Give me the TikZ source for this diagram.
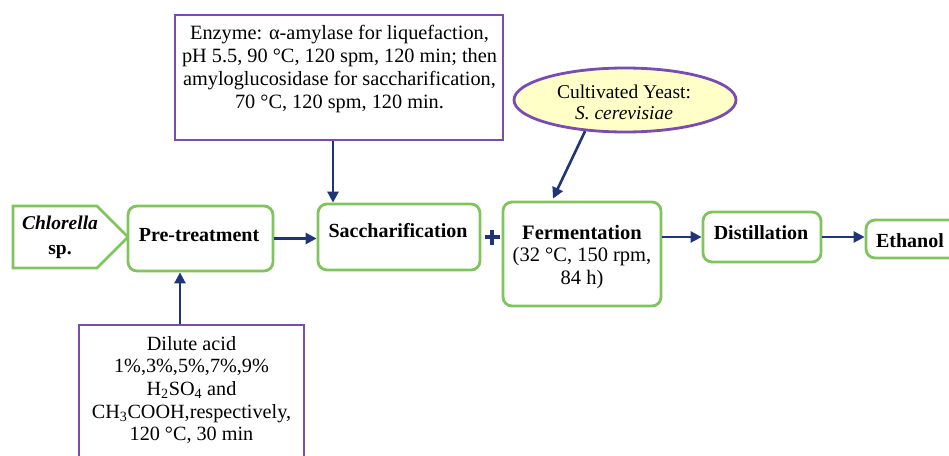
\documentclass[tikz,border=0pt]{standalone}
\usepackage{fontspec}
\setmainfont{Liberation Serif}
\usetikzlibrary{shapes.geometric,arrows.meta}
\definecolor{grn}{HTML}{80C45E}
\definecolor{pur}{HTML}{7A4BB0}
\definecolor{nav}{HTML}{1F3577}
\definecolor{yel}{HTML}{FFFFC8}
\begin{document}
\begin{tikzpicture}[x=1pt,y=-1pt,
  proc/.style={draw=grn,line width=2.8pt,rounded corners=9pt,fill=white,inner sep=0pt},
  ptext/.style={font=\fontsize{20}{22}\selectfont\bfseries,align=center,inner sep=0pt},
  cond/.style={draw=pur,line width=2.8pt,fill=white,inner sep=0pt},
  ctext/.style={font=\fontsize{20.3}{22.7}\selectfont,align=center,inner sep=0pt},
  arr/.style={draw=nav,line width=2.6pt,-{Triangle[length=11pt,width=11pt]}}]
\useasboundingbox (0,0) rectangle (949,455);
% Chlorella input pentagon
\draw[grn,line width=2.8pt,fill=white,line join=miter] (13,206) coordinate (c1) -- (97,206) -- (128,237) coordinate (ctip) -- (97,268) -- (13,268) -- cycle;
\node[ptext,font=\fontsize{19.5}{25}\selectfont\bfseries] (chl) at (60,237) {\textit{Chlorella}\\sp.};
% process boxes
\node[proc,minimum width=145pt,minimum height=65pt] (pre) at (200.5,238.5) {};
\node[ptext] (pret) at (199,235) {Pre-treatment};
\node[proc,minimum width=162pt,minimum height=66pt] (sac) at (399,237) {};
\node[ptext] (sact) at (398,231) {Saccharification};
\node[proc,minimum width=158pt,minimum height=104pt] (fer) at (582,254) {};
\node[ptext,font=\fontsize{20.5}{22.5}\selectfont] (fert) at (582,257) {\textbf{Fermentation}\\(32 °C, 150 rpm,\\84 h)};
\node[proc,minimum width=118pt,minimum height=50pt] (dis) at (762,237) {};
\node[ptext] (dist) at (761,233) {Distillation};
\node[proc,minimum width=94pt,minimum height=38pt] (eth) at (913,239) {};
\node[ptext] (etht) at (910,241) {Ethanol};
% condition boxes
\node[cond,minimum width=328pt,minimum height=125pt] (enz) at (339,77.5) {};
\node[ctext] (enzt) at (339.5,69) {Enzyme: α-amylase for liquefaction,\\pH 5.5, 90 °C, 120 spm, 120 min; then\\amyloglucosidase for saccharification,\\70 °C, 120 spm, 120 min.};
\node[cond,minimum width=225pt,minimum height=150pt] (dil) at (191.5,400) {};
\node[ctext,font=\fontsize{20.2}{22.7}\selectfont] (dilt) at (191.5,390) {Dilute acid\\1\%,3\%,5\%,7\%,9\%\\H\textsubscript{2}SO\textsubscript{4} and\\CH\textsubscript{3}COOH,respectively,\\120 °C, 30 min};
\node[ellipse,draw=pur,line width=2.8pt,fill=yel,minimum width=222pt,minimum height=64pt,inner sep=0pt] (yst) at (625,100) {};
\node[ctext,font=\fontsize{19.5}{21.5}\selectfont] (ystt) at (624,102.5) {Cultivated Yeast:\\\textit{S. cerevisiae}};
% plus sign
\coordinate (plus) at (492,237);
\draw[nav,line width=4.5pt] ([xshift=-7.5pt]plus) -- ([xshift=7.5pt]plus) ([yshift=7.5pt]plus) -- ([yshift=-7.5pt]plus);
% connectors
\draw[arr] (pre.east) -- (pre.east -| sac.west);
\draw[arr] ([xshift=-6pt]enz.south) -- ([xshift=-6pt]enz.south |- sac.north);
\draw[arr] ([xshift=-11.5pt]dil.north) -- ([xshift=-11.5pt]dil.north |- pre.south);
\draw[arr] (yst.218) -- ([xshift=-29pt,yshift=2pt]fer.north);
\draw[arr] (dis.west -| fer.east) -- (dis.west);
\draw[arr] (dis.east) -- (dis.east -| eth.west);
\end{tikzpicture}
\end{document}
